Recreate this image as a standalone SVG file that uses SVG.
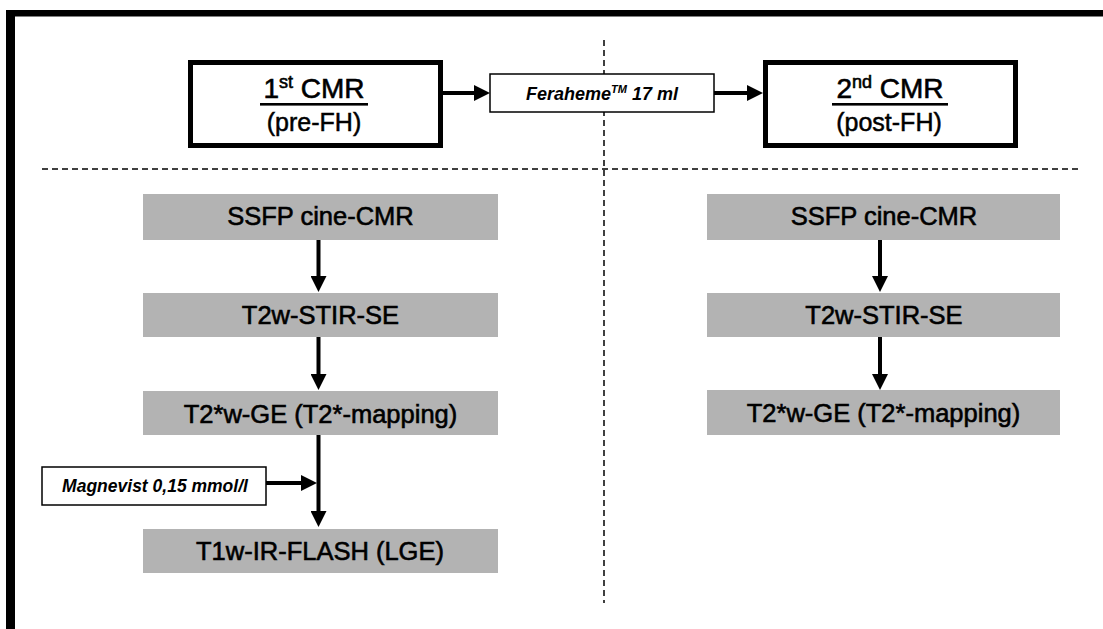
<svg xmlns="http://www.w3.org/2000/svg" width="1103" height="629" viewBox="0 0 1103 629">
<defs>
<style>
text{font-family:"Liberation Sans",Arial,sans-serif;fill:#000;text-anchor:middle}
.t{font-size:28px;stroke:#000;stroke-width:0.6}
.s{font-size:25px;stroke:#000;stroke-width:0.5}
.g{font-size:25.5px;stroke:#000;stroke-width:0.6}
.i{font-size:18px;font-weight:bold;font-style:italic}
.m{font-size:17.5px;font-weight:bold;font-style:italic}
.gray{fill:#b3b3b3}
.cmr{fill:#fff;stroke:#000;stroke-width:5}
.lab{fill:#fff;stroke:#000;stroke-width:1.5}
.dash{stroke:#000;stroke-width:1.5;stroke-dasharray:6 4;fill:none}
.arr{stroke:#000;stroke-width:4;fill:none;marker-end:url(#ah)}
</style>
<marker id="ah" markerUnits="userSpaceOnUse" markerWidth="16" markerHeight="16" refX="6" refY="8" orient="auto">
<path d="M0,0 L16,8 L0,16 z" fill="#000"/>
</marker>
</defs>
<rect width="1103" height="629" fill="#fff"/>
<g id="frame">
<rect x="6" y="10" width="9" height="619" fill="#000"/>
<rect x="6" y="10" width="1097" height="6.5" fill="#000"/>
</g>
<g id="dividers">
<line class="dash" x1="604" y1="40" x2="604" y2="603"/>
<line class="dash" x1="42" y1="169" x2="1078" y2="169"/>
</g>
<g id="cmr1">
<rect class="cmr" x="190.5" y="62.5" width="250" height="83"/>
<text class="t" x="314" y="98">1<tspan font-size="18" dy="-10">st</tspan><tspan dy="10"> CMR</tspan></text>
<rect x="260" y="103" width="108" height="2.6" fill="#000"/>
<text class="s" x="314" y="131">(pre-FH)</text>
</g>
<g id="feraheme">
<rect class="lab" x="490" y="74" width="224" height="38"/>
<text class="i" x="602" y="100">Feraheme<tspan font-size="11" dy="-7">TM</tspan><tspan dy="7"> 17 ml</tspan></text>
</g>
<g id="cmr2">
<rect class="cmr" x="765.5" y="62.5" width="250" height="83"/>
<text class="t" x="890" y="98">2<tspan font-size="18" dy="-10">nd</tspan><tspan dy="10"> CMR</tspan></text>
<rect x="832" y="103" width="116" height="2.6" fill="#000"/>
<text class="s" x="889" y="131">(post-FH)</text>
</g>
<g id="l-ssfp"><rect class="gray" x="143" y="194" width="355" height="46"/><text class="g" x="320.5" y="225">SSFP cine-CMR</text></g>
<g id="l-t2w"><rect class="gray" x="143" y="293" width="355" height="44"/><text class="g" x="320.5" y="324">T2w-STIR-SE</text></g>
<g id="l-t2s"><rect class="gray" x="143" y="391" width="355" height="44"/><text class="g" x="320.5" y="423">T2*w-GE (T2*-mapping)</text></g>
<g id="l-t1w"><rect class="gray" x="143" y="529" width="355" height="44"/><text class="g" x="320" y="560">T1w-IR-FLASH (LGE)</text></g>
<g id="magnevist">
<rect class="lab" x="42" y="467" width="224" height="38"/>
<text class="m" x="155" y="492">Magnevist 0,15 mmol/l</text>
</g>
<g id="r-ssfp"><rect class="gray" x="707" y="194" width="353" height="46"/><text class="g" x="884" y="225">SSFP cine-CMR</text></g>
<g id="r-t2w"><rect class="gray" x="707" y="293" width="353" height="44"/><text class="g" x="884" y="324">T2w-STIR-SE</text></g>
<g id="r-t2s"><rect class="gray" x="707" y="390" width="353" height="45"/><text class="g" x="883.5" y="422">T2*w-GE (T2*-mapping)</text></g>
<g id="connectors">
<line class="arr" x1="443" y1="93" x2="480" y2="93"/>
<line class="arr" x1="714" y1="93" x2="753" y2="93"/>
<line class="arr" x1="318.5" y1="240" x2="318.5" y2="282"/>
<line class="arr" x1="318.5" y1="337" x2="318.5" y2="380"/>
<line class="arr" x1="318.5" y1="435" x2="318.5" y2="517"/>
<line class="arr" x1="266" y1="483" x2="307" y2="483"/>
<line class="arr" x1="880" y1="240" x2="880" y2="282"/>
<line class="arr" x1="880" y1="337" x2="880" y2="380"/>
</g>
</svg>
